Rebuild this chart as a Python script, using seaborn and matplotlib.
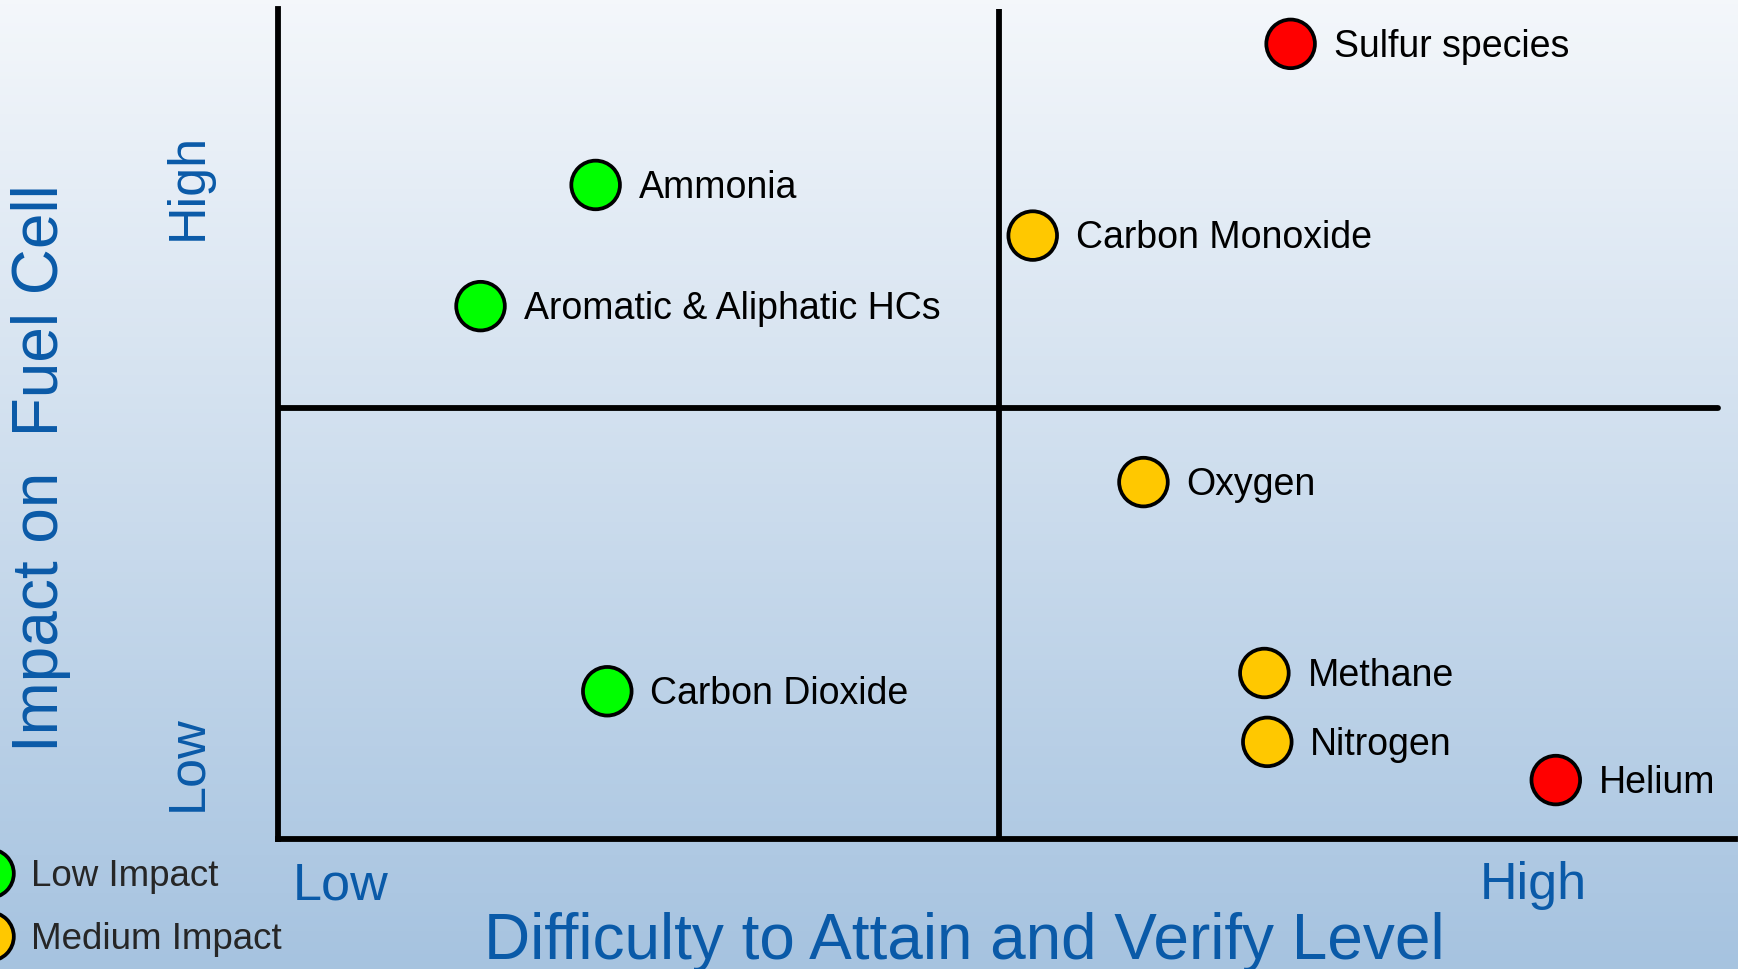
import numpy as np
import pandas as pd
import matplotlib
matplotlib.use("Agg")
import matplotlib.pyplot as plt
from matplotlib.lines import Line2D
import seaborn as sns

# contaminants: difficulty (x, 0-10) vs impact on fuel cell (y, 0-10)
species = ["Sulfur species", "Ammonia", "Carbon Monoxide", "Aromatic & Aliphatic HCs",
           "Oxygen", "Methane", "Carbon Dioxide", "Nitrogen", "Helium"]
difficulty = [6.95, 2.18, 5.18, 1.39, 5.94, 6.77, 2.26, 6.79, 8.77]
impact = [9.58, 7.88, 7.27, 6.42, 4.30, 2.00, 1.78, 1.17, 0.71]
impact_class = ["High Impact", "Low Impact", "Medium Impact", "Low Impact",
                "Medium Impact", "Medium Impact", "Low Impact", "Medium Impact", "High Impact"]
legend_classes = ["Low Impact", "Medium Impact"]
x_split = 4.95
y_split = 5.19

palette = {"Low Impact": "#00ff00", "Medium Impact": "#ffc800", "High Impact": "#ff0000"}
blue = "#0a5aa8"

df = pd.DataFrame({"species": species, "difficulty": difficulty,
                   "impact": impact, "impact_class": impact_class})

sns.set_style("white")
plt.rcParams['font.family'] = ['Liberation Sans', 'DejaVu Sans']

W, H = 1738, 969
fig = plt.figure(figsize=(W / 100, H / 100), dpi=100)

# gradient background
bg = fig.add_axes([0, 0, 1, 1])
top = np.array([0.957, 0.969, 0.984])
bot = np.array([0.651, 0.765, 0.878])
t = np.linspace(0, 1, 256)[:, None]
grad = (top * (1 - t) + bot * t)[:, None, :]
bg.imshow(grad, aspect="auto", extent=[0, 1, 0, 1])
bg.set_axis_off()

ax = fig.add_axes([278 / W, (H - 839) / H, (1735 - 278) / W, (839 - 9) / H])
ax.set_facecolor("none")
ax.set_xlim(0, 10)
ax.set_ylim(0, 10)
for s in ["top", "right"]:
    ax.spines[s].set_visible(False)
for s in ["left", "bottom"]:
    ax.spines[s].set_color("black")
    ax.spines[s].set_linewidth(4.2)
ax.set_xticks([])
ax.set_yticks([])

ax.axvline(x_split, color="black", lw=4.2)
ax.axhline(y_split, xmax=0.988, color="black", lw=4.2)

sns.scatterplot(data=df, x="difficulty", y="impact", hue="impact_class",
                palette=palette, s=1225, edgecolor="black", linewidth=2.7,
                legend=False, ax=ax, zorder=3, clip_on=False)

for name, xv, yv in zip(species, difficulty, impact):
    ax.annotate(name, (xv, yv), xytext=(31, -2), textcoords="offset points",
                va="center", ha="left", fontsize=27, color="black",
                annotation_clip=False)

ax.set_xlabel("")
ax.set_ylabel("")

# axis words
fig.text(964 / W, 1 - 942 / H, "Difficulty to Attain and Verify Level",
         ha="center", va="center", fontsize=46, color=blue)
fig.text(41 / W, 1 - 468 / H, "Impact on  Fuel Cell", rotation=90,
         ha="center", va="center", fontsize=46, color=blue)
fig.text(341 / W, 1 - 886 / H, "Low", ha="center", va="center", fontsize=37.5, color=blue)
fig.text(1533 / W, 1 - 886 / H, "High", ha="center", va="center", fontsize=37.5, color=blue)
fig.text(188 / W, 1 - 763 / H, "Low", rotation=90, ha="center", va="center", fontsize=37.5, color=blue)
fig.text(188 / W, 1 - 186 / H, "High", rotation=90, ha="center", va="center", fontsize=37.5, color=blue)

handles = [Line2D([], [], marker="o", linestyle="", markersize=35,
                  markerfacecolor=palette[k], markeredgecolor="black",
                  markeredgewidth=2.7) for k in legend_classes]
fig.legend(handles, legend_classes, loc="upper left",
           bbox_to_anchor=(-29 / W, 1 - 859 / H), frameon=False, fontsize=26.5,
           handlelength=1.0, handletextpad=0.64, borderpad=0, borderaxespad=0,
           labelspacing=0.76)

fig.savefig("out.png", dpi=100)
